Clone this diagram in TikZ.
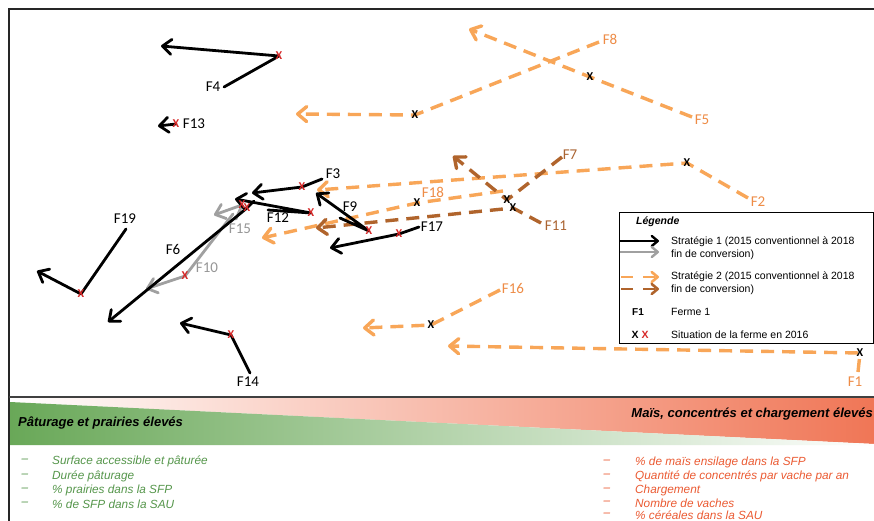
\documentclass[tikz,border=0pt]{standalone}
\usepackage{fontspec}
\setmainfont{Liberation Sans}
\newfontfamily\calib{Carlito}
\usetikzlibrary{arrows.meta}
\definecolor{orS}{RGB}{248,166,88}
\definecolor{brS}{RGB}{176,100,44}
\definecolor{grS}{RGB}{160,160,160}
\definecolor{orT}{RGB}{238,140,70}
\definecolor{brT}{RGB}{170,100,50}
\definecolor{grT}{RGB}{150,150,150}
\definecolor{redX}{RGB}{215,40,40}
\definecolor{greenL}{RGB}{85,150,75}
\definecolor{redL}{RGB}{235,90,50}
\definecolor{greenB}{RGB}{105,168,88}
\definecolor{redB}{RGB}{240,118,86}
\begin{document}
\begin{tikzpicture}[x=1pt,y=-1pt,
  sone/.style={line width=2.8pt, line join=round, line cap=round, -{Straight Barb[round,length=9pt,width=15pt]}},
  stwo/.style={line width=3.4pt, line join=round, dash pattern=on 13pt off 8pt, -{Straight Barb[round,length=9pt,width=15pt]}},
  lab/.style={font=\calib\fontsize{15}{16}\selectfont, inner sep=0pt},
  xmk/.style={font=\calib\bfseries\fontsize{12}{12}\selectfont, inner sep=0pt},
  leg/.style={font=\fontsize{10.5}{11}\selectfont, anchor=west, inner sep=0pt},
  glist/.style={font=\itshape\fontsize{11.8}{12}\selectfont, text=greenL, inner sep=0pt},
  rlist/.style={font=\itshape\fontsize{11.8}{12}\selectfont, text=redL, inner sep=0pt},
  legone/.style={line width=2.4pt, -{Straight Barb[round,length=6pt,width=10pt]}},
  legtwo/.style={line width=2.6pt, dash pattern=on 12pt off 10pt, -{Straight Barb[round,length=6pt,width=10pt]}}
]
\useasboundingbox (0,0) rectangle (874,521);
\fill[white] (0,0) rectangle (874,521);

% bottom gradient bands
\shade[left color=white, right color=redB] (10,398) -- (874,398) -- (874,444) -- (10,402) -- cycle;
\shade[left color=greenB, right color=white] (10,402) -- (874,444) -- (874,445) -- (10,445) -- cycle;

% frame
\draw[line width=2.5pt, black!85] (874,9) -- (9,9) -- (9,521);
\draw[line width=2.5pt, black!75] (9,397) -- (874,397);

% coordinates: start (s), 2016 (x), 2018 tip (t)
\coordinate (sF4) at (224,87);  \coordinate (xF4) at (279,56);  \coordinate (tF4) at (161,46);
\coordinate (xF13) at (176,124); \coordinate (tF13) at (158,126);
\coordinate (sF3) at (322,179); \coordinate (xF3) at (302,187); \coordinate (tF3) at (252,193);
\coordinate (sF12) at (268,210); \coordinate (xF12) at (311,213); \coordinate (tF12) at (235,199);
\coordinate (sF6) at (254,201); \coordinate (xF6) at (247,208); \coordinate (tF6) at (108,322);
\coordinate (sF15) at (236,219); \coordinate (xF15) at (242,205); \coordinate (tF15) at (214,215);
\coordinate (sF10) at (233,214); \coordinate (xF10) at (185,276); \coordinate (tF10) at (146,289);
\coordinate (sF9) at (340,218); \coordinate (xF9) at (369,231); \coordinate (tF9) at (316,193);
\coordinate (sF17) at (419,227); \coordinate (xF17) at (399,234); \coordinate (tF17) at (330,248);
\coordinate (sF19) at (126,229); \coordinate (xF19) at (81,294); \coordinate (tF19) at (37,271);
\coordinate (sF14) at (250,373); \coordinate (xF14) at (231,335); \coordinate (tF14) at (180,323);
\coordinate (sF8) at (599,42); \coordinate (xF8) at (415,115); \coordinate (tF8) at (296,114);
\coordinate (sF5) at (692,117); \coordinate (xF5) at (590,77); \coordinate (tF5) at (469,29);
\coordinate (sF2) at (748,198); \coordinate (xF2) at (687,163); \coordinate (tF2) at (317,190);
\coordinate (sF18) at (503,191); \coordinate (xF18) at (417,203); \coordinate (tF18) at (262,238);
\coordinate (sF16) at (500,290); \coordinate (xF16) at (431,325); \coordinate (tF16) at (363,328);
\coordinate (sF1) at (858,372); \coordinate (xF1) at (860,353); \coordinate (tF1) at (448,346);
\coordinate (sF7) at (562,157); \coordinate (xF7) at (507,200); \coordinate (tF7) at (453,156);
\coordinate (sF11) at (541,223); \coordinate (xF11) at (513,208); \coordinate (tF11) at (316,228);

% strategy 2 (dashed)
\draw[stwo, orS] (sF8) -- (xF8) -- (tF8);
\draw[stwo, orS] (sF5) -- (xF5) -- (tF5);
\draw[stwo, orS] (sF2) -- (xF2) -- (tF2);
\draw[stwo, orS] (sF18) -- (xF18) -- (tF18);
\draw[stwo, orS] (sF16) -- (xF16) -- (tF16);
\draw[stwo, orS] (sF1) -- (xF1) -- (tF1);
\draw[stwo, brS] (sF7) -- (xF7) -- (tF7);
\draw[stwo, brS] (sF11) -- (xF11) -- (tF11);

% strategy 1 (solid)
\draw[sone, grS] (sF10) -- (xF10) -- (tF10);
\draw[sone, grS] (sF15) -- (xF15) -- (tF15);
\draw[sone, black] (sF4) -- (xF4) -- (tF4);
\draw[sone, black] (xF13) -- (tF13);
\draw[sone, black] (sF3) -- (xF3) -- (tF3);
\draw[sone, black] (sF12) -- (xF12) -- (tF12);
\draw[sone, black] (sF6) -- (xF6) -- (tF6);
\draw[sone, black] (sF9) -- (xF9) -- (tF9);
\draw[sone, black] (sF17) -- (xF17) -- (tF17);
\draw[sone, black] (sF19) -- (xF19) -- (tF19);
\draw[sone, black] (sF14) -- (xF14) -- (tF14);

% 2016 marks
\foreach \f in {F4,F13,F3,F12,F6,F15,F10,F9,F17,F19,F14}
  \node[xmk, text=redX] (m\f) at (x\f) {X};
\foreach \f in {F8,F5,F2,F18,F16,F1,F7,F11}
  \node[xmk, text=black] (m\f) at (x\f) {X};

% farm labels
\node[lab] (lF4) at (213,87) {F4};
\node[lab] (lF13) at (194,124) {F13};
\node[lab] (lF3) at (333,174) {F3};
\node[lab] (lF12) at (278,218) {F12};
\node[lab] (lF9) at (350,207) {F9};
\node[lab] (lF17) at (432,227) {F17};
\node[lab] (lF19) at (125,219) {F19};
\node[lab] (lF6) at (173,249) {F6};
\node[lab, text=grT] (lF10) at (207,268) {F10};
\node[lab, text=grT] (lF15) at (240,229) {F15};
\node[lab] (lF14) at (248,382) {F14};
\node[lab, text=orT] (lF8) at (610,39) {F8};
\node[lab, text=orT] (lF5) at (702,120) {F5};
\node[lab, text=orT] (lF2) at (758,202) {F2};
\node[lab, text=orT] (lF18) at (433,192) {F18};
\node[lab, text=orT] (lF16) at (513,288) {F16};
\node[lab, text=orT] (lF1) at (855,382) {F1};
\node[lab, text=brT] (lF7) at (570,155) {F7};
\node[lab, text=brT] (lF11) at (556,226) {F11};

% legend
\draw[line width=1pt, fill=white] (619,213) rectangle (873,343);
\node[leg, font=\bfseries\itshape\fontsize{10.5}{11}\selectfont] (lgT) at (636,222) {Légende};
\coordinate (la1) at (620,241); \coordinate (lb1) at (659,241);
\coordinate (la2) at (620,252); \coordinate (lb2) at (659,252);
\coordinate (la3) at (621,277); \coordinate (lb3) at (659,277);
\coordinate (la4) at (621,289); \coordinate (lb4) at (659,289);
\draw[legone, black] (la1) -- (lb1);
\draw[legone, grS] (la2) -- (lb2);
\draw[legtwo, orS] (la3) -- (lb3);
\draw[legtwo, brS] (la4) -- (lb4);
\node[leg] (lg1) at (671,242) {Stratégie 1 (2015 conventionnel à 2018};
\node[leg] (lg2) at (671,255) {fin de conversion)};
\node[leg] (lg3) at (671,277) {Stratégie 2 (2015 conventionnel à 2018};
\node[leg] (lg4) at (671,290) {fin de conversion)};
\node[leg, anchor=center, font=\bfseries\fontsize{10}{10}\selectfont] (lgF) at (638,312) {F1};
\node[leg] (lg5) at (671,312) {Ferme 1};
\node[leg, anchor=center, font=\bfseries\fontsize{10.5}{10}\selectfont] (lgX1) at (635,335) {X};
\node[leg, anchor=center, font=\bfseries\fontsize{10.5}{10}\selectfont, text=redX] (lgX2) at (645,335) {X};
\node[leg] (lg6) at (671,335) {Situation de la ferme en 2016};

% band headings
\node[anchor=west, inner sep=0pt, font=\bfseries\itshape\fontsize{13}{14}\selectfont] (hG) at (18,423) {Pâturage et prairies élevés};
\node[anchor=east, inner sep=0pt, font=\bfseries\itshape\fontsize{13}{14}\selectfont] (hR) at (873,414) {Maïs, concentrés et chargement élevés};

% lists
\foreach \y/\t [count=\i] in {461/Surface accessible et pâturée, 476/Durée pâturage, 490/\% prairies dans la SFP, 504/\% de SFP dans la SAU} {
  \node[glist] (gd\i) at (25,\y) {–};
  \node[glist, anchor=west] (gt\i) at (52,\y) {\t};
}
\foreach \y/\t [count=\i] in {462/\% de maïs ensilage dans la SFP, 476/Quantité de concentrés par vache par an, 490/Chargement, 503/Nombre de vaches, 515/\% céréales dans la SAU} {
  \node[rlist] (rd\i) at (607,\y) {–};
  \node[rlist, anchor=west] (rt\i) at (635,\y) {\t};
}
\end{tikzpicture}
\end{document}
